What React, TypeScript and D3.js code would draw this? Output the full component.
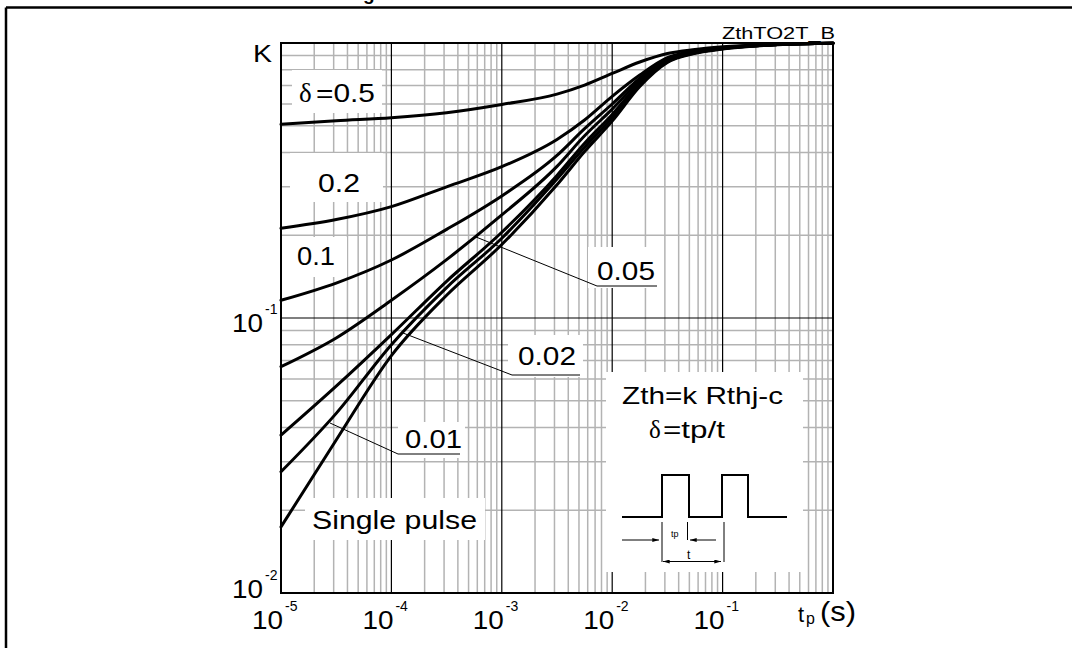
import React from 'react';
import * as d3 from 'd3';

// time exponents (log10 of tp in s) at which the curves were read
const tExp = [-5, -4.5, -4, -3.5, -3, -2.5, -2.25, -2, -1.75, -1.5, -1.25, -1, -0.5, 0];
// K values per duty cycle
const kD05 = [0.506, 0.522, 0.535, 0.558, 0.598, 0.652, 0.703, 0.775, 0.853, 0.916, 0.947, 0.969, 0.989, 0.997];
const kD02 = [0.212, 0.228, 0.254, 0.3, 0.355, 0.446, 0.525, 0.64, 0.765, 0.885, 0.935, 0.962, 0.988, 0.997];
const kD01 = [0.116, 0.134, 0.1625, 0.21, 0.278, 0.39, 0.488, 0.6, 0.745, 0.875, 0.93, 0.959, 0.987, 0.997];
const kD005 = [0.0665, 0.0846, 0.116, 0.163, 0.237, 0.356, 0.46, 0.575, 0.73, 0.868, 0.926, 0.957, 0.987, 0.997];
const kD002 = [0.0375, 0.0565, 0.087, 0.136, 0.205, 0.33, 0.432, 0.55, 0.715, 0.86, 0.922, 0.955, 0.987, 0.997];
const kD001 = [0.0276, 0.045, 0.08, 0.129, 0.195, 0.32, 0.418, 0.535, 0.705, 0.855, 0.92, 0.953, 0.987, 0.997];
const kSingle = [0.0174, 0.036, 0.073, 0.121, 0.185, 0.305, 0.403, 0.52, 0.695, 0.85, 0.917, 0.951, 0.986, 0.997];
const seriesK = [kD05, kD02, kD01, kD005, kD002, kD001, kSingle];

const xDecades = [-5, -4, -3, -2, -1];
const yDecades = [-2, -1];
const xTickExp = ['-5', '-4', '-3', '-2', '-1'];
const yTickExp = ['-2', '-1'];

const FONT = 'Liberation Sans, Arial, Helvetica, sans-serif';
const SERIF = 'Liberation Serif, DejaVu Serif, Times New Roman, serif';

export default function App() {
  const x = d3.scaleLog().domain([1e-5, 1]).range([281, 833]);
  const y = d3.scaleLog().domain([0.01, 1]).range([593, 43]);

  const line = d3
    .line<[number, number]>()
    .x((d) => x(Math.pow(10, d[0])))
    .y((d) => y(d[1]))
    .curve(d3.curveMonotoneX);

  const xMinor: number[] = [];
  xDecades.forEach((e) => {
    for (let m = 2; m <= 9; m++) xMinor.push(m * Math.pow(10, e));
  });
  const yMinor: number[] = [];
  yDecades.forEach((e) => {
    for (let m = 2; m <= 9; m++) yMinor.push(m * Math.pow(10, e));
  });

  const [x0, x1] = x.range();
  const [y0, y1] = y.range();

  const whiteBoxes = [
    [292, 70, 90, 43],
    [290, 153, 93, 49],
    [282, 237, 65, 40],
    [588, 247, 70, 41],
    [508, 335, 75, 42],
    [398, 422, 67, 36],
    [305, 498, 180, 42],
    [606, 372, 197, 200],
  ];

  const txt = (
    s: string,
    xx: number,
    yy: number,
    size: number,
    len?: number,
    extra: any = {}
  ) => (
    <text
      x={xx}
      y={yy}
      fontSize={size}
      fontFamily={FONT}
      fill="#000"
      {...(len ? { textLength: len, lengthAdjust: 'spacingAndGlyphs' } : {})}
      {...extra}
    >
      {s}
    </text>
  );

  return (
    <div style={{ position: 'absolute', left: 0, top: 0 }}>
      <svg width={1072} height={648} viewBox="0 0 1072 648" style={{ display: 'block', background: '#fff' }}>
        <defs>
          <marker id="arr" viewBox="0 0 10 6" refX={10} refY={3} markerWidth={7} markerHeight={4} orient="auto-start-reverse" markerUnits="userSpaceOnUse">
            <path d="M0,0 L10,3 L0,6 z" fill="#000" />
          </marker>
        </defs>
        <rect x={0} y={0} width={1072} height={648} fill="#fff" />
        {/* clipped title fragment, as in the source page */}
        <text x={363} y={0} fontSize={19} fontWeight="bold" fontFamily={FONT}>g</text>
        {/* outer frame */}
        <line x1={6} y1={7.5} x2={1072} y2={7.5} stroke="#000" strokeWidth={2.5} />
        <line x1={6} y1={7.5} x2={6} y2={648} stroke="#000" strokeWidth={2.5} />

        {/* minor grid */}
        <g stroke="#b3b3b3" strokeWidth={1.5}>
          {xMinor.map((v, i) => (
            <line key={'xm' + i} x1={x(v)} x2={x(v)} y1={y1} y2={y0} />
          ))}
          {yMinor.map((v, i) => (
            <line key={'ym' + i} x1={x0} x2={x1} y1={y(v)} y2={y(v)} />
          ))}
        </g>
        {/* major grid */}
        <g stroke="#000" strokeWidth={1.2}>
          {xDecades.slice(1).map((e) => (
            <line key={'xM' + e} x1={x(Math.pow(10, e))} x2={x(Math.pow(10, e))} y1={y1} y2={y0} />
          ))}
          {yDecades.slice(1).map((e) => (
            <line key={'yM' + e} x1={x0} x2={x1} y1={y(Math.pow(10, e))} y2={y(Math.pow(10, e))} />
          ))}
        </g>

        {/* label backgrounds */}
        {whiteBoxes.map((b, i) => (
          <rect key={'wb' + i} x={b[0]} y={b[1]} width={b[2]} height={b[3]} fill="#fff" />
        ))}

        {/* plot frame */}
        <rect x={x0} y={y1} width={x1 - x0} height={y0 - y1} fill="none" stroke="#000" strokeWidth={2} />

        {/* curves */}
        <g fill="none" stroke="#000" strokeWidth={3} strokeLinejoin="round" strokeLinecap="round">
          {seriesK.map((ks, i) => (
            <path key={'c' + i} d={line(tExp.map((e, j) => [e, ks[j]] as [number, number])) || ''} />
          ))}
        </g>

        {/* leaders */}
        <g fill="none" stroke="#000" strokeWidth={1}>
          <polyline points="476,237 597,286 657,286" />
          <polyline points="403,333 512,375 580,375" />
          <polyline points="330,423 398,454 460,454" />
        </g>

        {/* curve labels */}
        <text x={299} y={102} fontSize={27} fontFamily={SERIF}>δ</text>
        {txt('=0.5', 316, 102, 25, 59)}
        {txt('0.2', 318, 192, 25, 42)}
        {txt('0.1', 297, 265, 25, 38)}
        {txt('0.05', 597, 280, 25, 58)}
        {txt('0.02', 518, 365, 25, 58)}
        {txt('0.01', 405, 448, 25, 57)}
        {txt('Single pulse', 312, 529, 25, 165)}

        {/* inset */}
        {txt('Zth=k Rthj-c', 622, 404, 24, 161)}
        <text x={649} y={438} fontSize={25} fontFamily={SERIF}>δ</text>
        {txt('=tp/t', 663, 438, 24, 62)}
        <polyline
          points="622,517 662,517 662,475 689,475 689,517 722,517 722,475 748,475 748,517 787,517"
          fill="none"
          stroke="#000"
          strokeWidth={2}
        />
        <g stroke="#000" strokeWidth={1} fill="none">
          <line x1={662} y1={522} x2={662} y2={562} />
          <line x1={687.5} y1={522} x2={687.5} y2={540} />
          <line x1={724} y1={522} x2={724} y2={562} />
          <line x1={622} y1={540} x2={659} y2={540} markerEnd="url(#arr)" />
          <line x1={716} y1={540} x2={690} y2={540} markerEnd="url(#arr)" />
          <line x1={663} y1={561.5} x2={721} y2={561.5} markerStart="url(#arr)" markerEnd="url(#arr)" />
        </g>
        {txt('tp', 671, 537, 9)}
        {txt('t', 687, 559, 12)}

        {/* axis labels */}
        {txt('K', 253, 62, 24, 19)}
        {txt('ZthTO2T_B', 722, 39, 17, 113)}
        {xDecades.map((e, i) => {
          const px = x(Math.pow(10, e));
          return (
            <g key={'xl' + e}>
              {txt('10', px - 29, 629, 26, 31)}
              {txt(xTickExp[i], px + 4, 611, 14)}
            </g>
          );
        })}
        {yDecades.map((e, i) => {
          const py = y(Math.pow(10, e));
          const base = e === -2 ? py + 5 : py + 14;
          return (
            <g key={'yl' + e}>
              {txt('10', 232, base, 26, 31)}
              {txt(yTickExp[i], 265, base - 18, 14)}
            </g>
          );
        })}
        {txt('t', 798, 622, 22)}
        {txt('p', 806, 624, 16)}
        {txt('(s)', 820, 621, 28, 36)}
      </svg>
    </div>
  );
}
